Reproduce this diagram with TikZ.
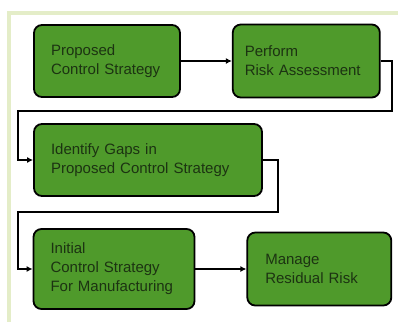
\documentclass[tikz,border=0pt]{standalone}
\usepackage{fontspec}
\setmainfont{Liberation Sans}
\usetikzlibrary{arrows.meta,positioning}
\definecolor{boxgreen}{HTML}{4F9A2B}
\definecolor{boxtext}{HTML}{1C3312}
\definecolor{framegreen}{HTML}{E4EDC8}
\tikzset{
    stepbox/.style={
    rectangle,rounded corners=8pt,draw=black,line width=1.8pt,fill=boxgreen,
    text=boxtext,align=left,inner xsep=17pt,inner ysep=0pt,
    font=\fontsize{15}{19}\selectfont
    },
    link/.style={
    draw=black,line width=1.4pt,-{Latex[length=6pt,width=6pt]}
    },
}
\begin{document}
\begin{tikzpicture}[x=1pt,y=-1pt]
   \useasboundingbox (0,0) rectangle (398,322);
   \draw[framegreen,line width=4pt] (9,322) -- (9,12.5) -- (398,12.5);

   \node[stepbox,text width=112pt,minimum height=72pt] (proposed) at (107,61) {Proposed\\Control Strategy};
   \node[stepbox,text width=123pt,minimum height=73pt,inner xsep=12pt] (risk) [right=51pt of proposed] {Perform\\Risk Assessment};
   \node[stepbox,text width=194pt,minimum height=72pt] (gaps) at (148,160) {Identify Gaps in\\Proposed Control Strategy};
   \node[stepbox,text width=127pt,minimum height=80pt] (initial) at (114,269) {Initial\\Control Strategy\\For Manufacturing};
   \node[stepbox,text width=108pt,minimum height=73pt,inner xsep=18pt] (residual) [right=51pt of initial] {Manage\\Residual Risk};

   \coordinate (riskturn) at (392,111);
   \coordinate (riskback) at (18,111);
   \coordinate (gapsturn) at (278,212);
   \coordinate (gapsback) at (18,212);

   \path (proposed) edge[link] (risk);
   \draw[link] (risk.east) -| (riskturn) -- (riskback) |- (gaps.west);
   \draw[link] (gaps.east) -| (gapsturn) -- (gapsback) |- (initial.west);
   \path (initial) edge[link] (residual);
\end{tikzpicture}
\end{document}
